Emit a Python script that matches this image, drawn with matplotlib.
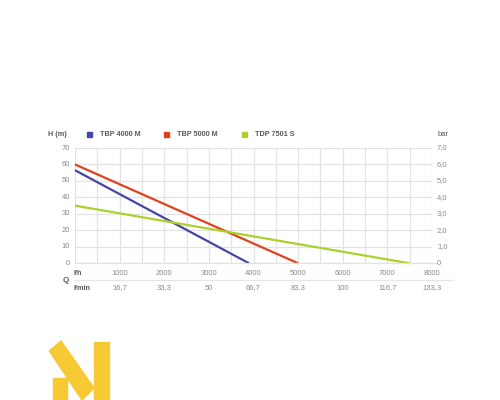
import matplotlib
matplotlib.use("Agg")
import matplotlib.pyplot as plt
from matplotlib.patches import Polygon, Rectangle
from matplotlib.lines import Line2D

plt.rcParams["font.family"] = ["Liberation Sans", "DejaVu Sans"]

W, H = 500, 400
DPI = 100

series_names = ["TBP 4000 M", "TBP 5000 M", "TDP 7501 S"]
series_colors = ["#4646a6", "#e2411e", "#a9d22c"]
blue_q = [0, 3900]
blue_h = [56.5, 0]
red_q = [0, 5000]
red_h = [60, 0]
green_q = [0, 7500]
green_h = [35, 0]

xticks_lh = [1000, 2000, 3000, 4000, 5000, 6000, 7000, 8000]
xticks_lmin = ["16,7", "33,3", "50", "66,7", "83,3", "100", "116,7", "133,3"]
yticks_m = [0, 10, 20, 30, 40, 50, 60, 70]
yticks_bar = ["0", "1,0", "2,0", "3,0", "4,0", "5,0", "6,0", "7,0"]

fig = plt.figure(figsize=(W / DPI, H / DPI), dpi=DPI)
fig.patch.set_facecolor("white")

def fx(px):
    return px / W

def fy(py):
    return 1 - py / H

x0, x1 = 75, 432
y0, y1 = 263.3, 148
ax = fig.add_axes([fx(x0), fy(y0), fx(x1) - fx(x0), fy(y1) - fy(y0)])
ax.set_xlim(0, 8000)
ax.set_ylim(0, 70)
ax.set_xticks(range(0, 8001, 500))
ax.set_yticks(yticks_m)
ax.grid(True, color="#e3e3e3", lw=0.9)
ax.set_axisbelow(True)
for s in ax.spines.values():
    s.set_visible(False)
ax.tick_params(length=0, labelleft=False, labelbottom=False)

for q, h, c in zip([blue_q, red_q, green_q], [blue_h, red_h, green_h], series_colors):
    ax.plot(q, h, color=c, lw=1.6, solid_capstyle="butt", clip_on=False)

tcol = "#8a8a8a"
bcol = "#5a5a5a"
fs = 5.5
fsb = 5.2

fig.add_artist(Line2D([fx(x0), fx(437)], [fy(y0), fy(y0)], color="#e3e3e3", lw=0.9))
fig.add_artist(Line2D([fx(75), fx(453)], [fy(279.5), fy(279.5)], color="#e6e6e6", lw=0.9))

for v, lm in zip(xticks_lh, xticks_lmin):
    xpix = x0 + (x1 - x0) * v / 8000
    fig.text(fx(xpix), fy(273.8), str(v), ha="center", va="center", fontsize=fs, color=tcol)
    fig.text(fx(xpix), fy(288), lm, ha="center", va="center", fontsize=fs, color=tcol)

fig.text(fx(74), fy(273.8), "l/h", ha="left", va="center", fontsize=fsb, color=bcol, fontweight="bold")
fig.text(fx(74), fy(288), "l/min", ha="left", va="center", fontsize=fsb, color=bcol, fontweight="bold")
fig.text(fx(66), fy(281), "Q", ha="center", va="center", fontsize=fsb + 0.5, color=bcol, fontweight="bold")

for v, b in zip(yticks_m, yticks_bar):
    ypix = y0 - (y0 - y1) * v / 70
    fig.text(fx(70), fy(ypix), str(v), ha="right", va="center", fontsize=fs, color=tcol)
    fig.text(fx(437), fy(ypix), b, ha="left", va="center", fontsize=fs, color=tcol)

fig.text(fx(48), fy(134.5), "H (m)", ha="left", va="center", fontsize=fsb, color=bcol, fontweight="bold")
fig.text(fx(438), fy(134.5), "bar", ha="left", va="center", fontsize=fs, color=bcol)

leg_x = [87, 164, 242]
for lx, name, c in zip(leg_x, series_names, series_colors):
    fig.add_artist(Rectangle((fx(lx), fy(137)), fx(5), 5 / H, color=c, transform=fig.transFigure))
    fig.text(fx(lx + 13), fy(134.5), name, ha="left", va="center", fontsize=fsb, color=bcol, fontweight="bold")

ycol = "#f6c935"
def P(pts):
    return [(fx(a), fy(b)) for a, b in pts]
fig.add_artist(Polygon(P([(53.3, 378), (66.7, 378), (66.7, 400), (53.3, 400)]), closed=True, color=ycol, transform=fig.transFigure))
fig.add_artist(Polygon(P([(49.3, 351), (61, 341), (94, 388), (82, 400)]), closed=True, color=ycol, transform=fig.transFigure))
fig.add_artist(Polygon(P([(93.5, 342), (109.3, 342), (109.3, 400), (93.5, 400)]), closed=True, color=ycol, transform=fig.transFigure))

fig.savefig("out.png", dpi=DPI, facecolor="white")
